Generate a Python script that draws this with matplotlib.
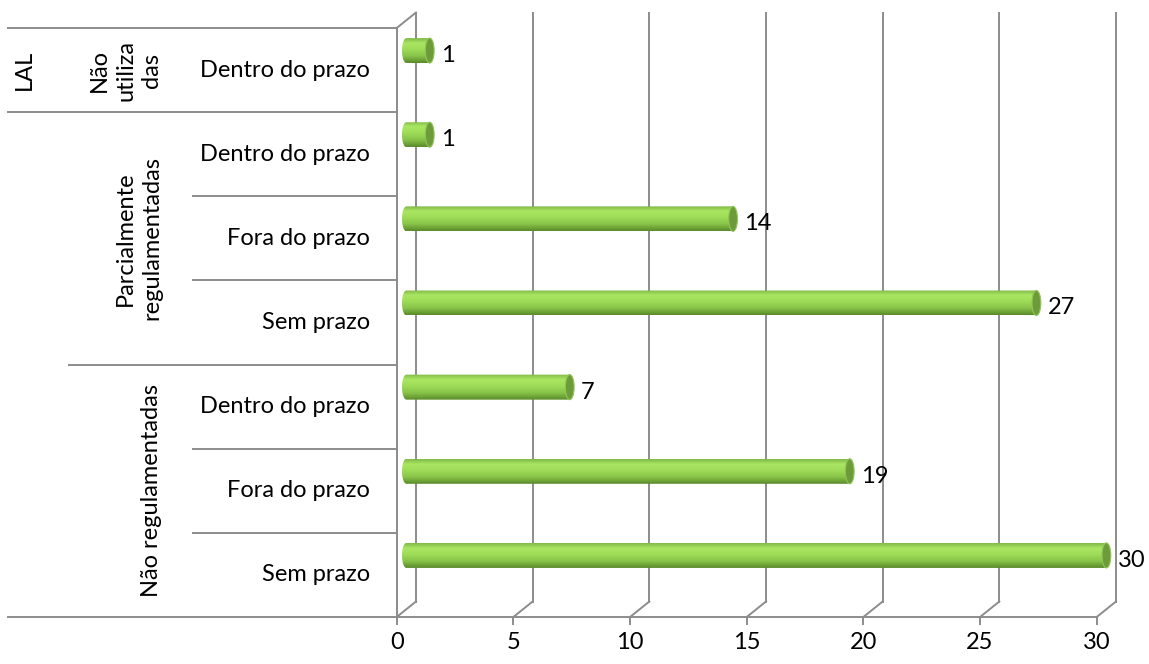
import numpy as np
import matplotlib
matplotlib.use("Agg")
import matplotlib.pyplot as plt
from matplotlib.transforms import blended_transform_factory
from matplotlib.patches import Ellipse, PathPatch
from matplotlib.path import Path
from matplotlib.colors import LinearSegmentedColormap

plt.rcParams['font.family'] = ['Lato', 'DejaVu Sans']

# rows listed bottom to top
labels = ["Sem prazo", "Fora do prazo", "Dentro do prazo",
          "Sem prazo", "Fora do prazo", "Dentro do prazo",
          "Dentro do prazo"]
values = [30, 19, 7, 27, 14, 1, 1]
groups = ["Não regulamentadas", "Parcialmente\nregulamentadas", "Não\nutiliza\ndas"]
group_rows = [(0, 2), (3, 5), (6, 6)]
outer = ["", "LAL"]
outer_rows = [(0, 5), (6, 6)]
xticks = [0, 5, 10, 15, 20, 25, 30]

W, H = 1149, 664
fs = 17
grid = '#8c8c8c'

fig = plt.figure(figsize=(W / 100, H / 100), dpi=100)
ax = fig.add_axes([396.7 / W, 47 / H, 700 / W, 589 / H])
ax.set_xlim(0, 30)
ax.set_ylim(-0.5, 6.5)
for s in ax.spines.values():
    s.set_visible(False)
ax.set_yticks([])
ax.set_xticks(xticks)
ax.tick_params(axis='x', length=5.8, width=1.4, color=grid, pad=5, labelsize=fs)

# pixel -> data conversions
px_x = 30 / 700
px_y = 7 / 589
ddx, ddy = 19.3 * px_x, 15.5 * px_y   # depth of the 3d box

# back wall and floor
for t in xticks:
    ax.plot([t + ddx, t + ddx], [-0.5 + ddy, 6.5 + ddy], color=grid, lw=1.4, clip_on=False, zorder=1)
    ax.plot([t, t + ddx], [-0.5, -0.5 + ddy], color=grid, lw=1.4, clip_on=False, zorder=1)
ax.plot([0, ddx], [6.5, 6.5 + ddy], color=grid, lw=1.4, clip_on=False, zorder=1)

# front axis and table lines
trans = blended_transform_factory(ax.transAxes, ax.transData)
ax.plot([0, 0], [-0.5, 6.5], color=grid, lw=1.4, clip_on=False, zorder=1)
ax.plot([-0.555, 1.0], [-0.5, -0.5], color=grid, lw=1.4, transform=trans, clip_on=False, zorder=1)
for b in np.arange(0.5, 6.5, 1.0):
    left = -0.291
    if b == 2.5:
        left = -0.468
    if b == 5.5:
        left = -0.555
    ax.plot([left, 0], [b, b], color=grid, lw=1.4, transform=trans, clip_on=False)
ax.plot([-0.555, 0], [6.5, 6.5], color=grid, lw=1.4, transform=trans, clip_on=False)

# cylinders
cmap = LinearSegmentedColormap.from_list('cyl', [(0, '#80b947'), (0.2, '#aae662'), (0.45, '#9edc58'),
                                                  (0.72, '#88c449'), (1, '#5a8a2b')])
grad = np.linspace(0, 1, 64).reshape(-1, 1)
bx = 9.7 * px_x
shift = 19.5 * px_y
h = 12.5 * px_y
a = 4.4 * px_x
theta = np.linspace(1.5 * np.pi, 0.5 * np.pi, 30)
for i, v in enumerate(values):
    yc = i + shift
    x1 = bx + v
    verts = [(bx, yc + h), (x1, yc + h), (x1, yc - h), (bx, yc - h)]
    verts += list(zip(bx + a * np.cos(theta), yc + h * np.sin(theta)))
    verts.append((bx, yc + h))
    path = Path(verts, closed=True)
    patch = PathPatch(path, facecolor='none', edgecolor='none', transform=ax.transData, clip_on=False)
    ax.add_patch(patch)
    im = ax.imshow(grad, extent=(bx - a, x1, yc - h, yc + h), origin='upper', aspect='auto',
                   cmap=cmap, zorder=3, interpolation='bilinear')
    im.set_clip_box(fig.bbox)
    im.set_clip_path(patch)
    ax.add_patch(Ellipse((x1, yc), 2 * a, 2 * h, facecolor='#6e9b3a', edgecolor='#8fc656',
                         lw=0.8, zorder=4, clip_on=False))
    ax.annotate(str(v), xy=(x1 + a, yc), xytext=(7, -5), textcoords='offset pixels',
                va='center', ha='left', fontsize=fs, annotation_clip=False)

ax.set_xlim(0, 30)
ax.set_ylim(-0.5, 6.5)

# category labels
for i, lab in enumerate(labels):
    ax.text(-26.7 / 700, i, lab, ha='right', va='center', fontsize=fs, transform=trans)
for g, (r0, r1) in zip(groups, group_rows):
    ax.text(-0.335, (r0 + r1) / 2, g, rotation=90, ha='right', va='center',
            multialignment='center', fontsize=fs, transform=trans, linespacing=1.3)
for g, (r0, r1) in zip(outer, outer_rows):
    if g:
        ax.text(-0.517, (r0 + r1) / 2, g, rotation=90, ha='right', va='center',
                fontsize=fs, transform=trans)

fig.savefig('out.png', dpi=100)
